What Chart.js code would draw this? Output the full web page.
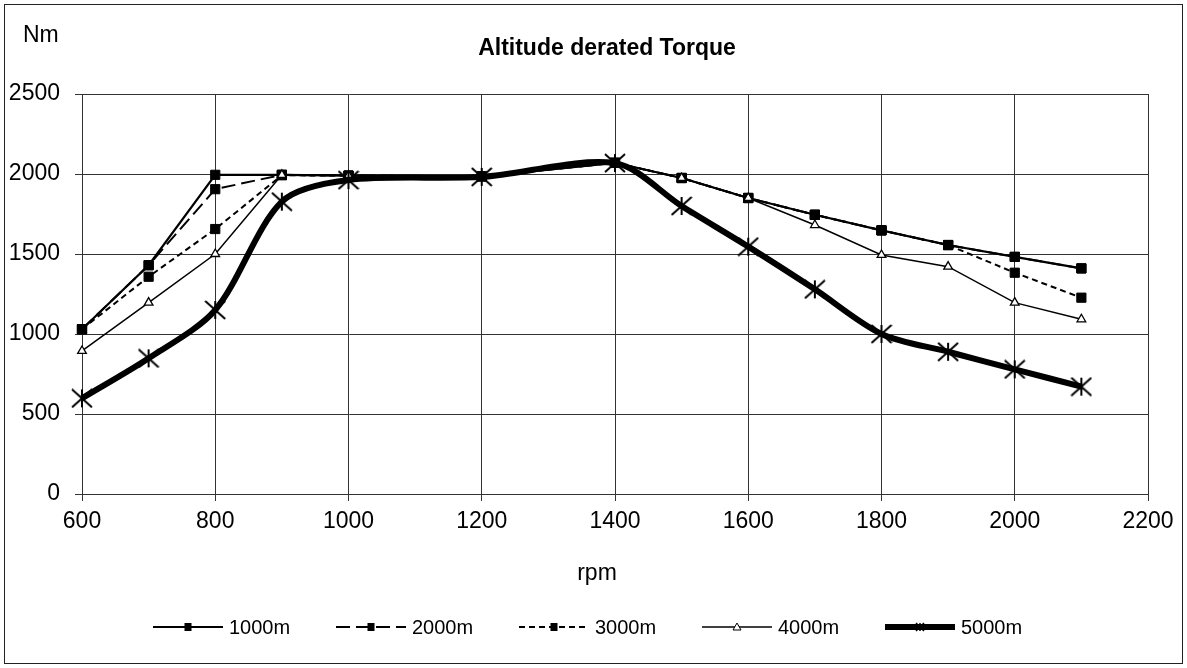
<!DOCTYPE html>
<html>
<head>
<meta charset="utf-8">
<title>Altitude derated Torque</title>
<script src="https://cdn.jsdelivr.net/npm/chart.js@4.4.1/dist/chart.umd.min.js"></script>
<style>
  html, body { margin: 0; padding: 0; background: #fff; }
  #wrap { width: 1187px; height: 668px; }
</style>
</head>
<body>
<div id="wrap"><canvas id="chart" width="1187" height="668"></canvas></div>
<script>
// values
const rpm = [600, 700, 800, 900, 1000, 1200, 1400, 1500, 1600, 1700, 1800, 1900, 2000, 2100];
const torque1000 = [1030, 1430, 1995, 1995, 1990, 1985, 2070, 1975, 1850, 1745, 1648, 1556, 1482, 1410];
const torque2000 = [1030, 1430, 1905, 1995, 1990, 1985, 2070, 1975, 1850, 1745, 1648, 1556, 1482, 1410];
const torque3000 = [1030, 1358, 1656, 1992, 1990, 1985, 2070, 1975, 1850, 1745, 1648, 1556, 1383, 1227];
const torque4000 = [894, 1196, 1500, 1995, 1990, 1985, 2070, 1975, 1850, 1681, 1494, 1421, 1196, 1092];
const torque5000 = [598, 848, 1150, 1827, 1962, 1982, 2068, 1800, 1546, 1279, 1000, 889, 779, 671];
const seriesNames = ['1000m', '2000m', '3000m', '4000m', '5000m'];
const xTicks = [600, 800, 1000, 1200, 1400, 1600, 1800, 2000, 2200];
const yTicks = [0, 500, 1000, 1500, 2000, 2500];

const FONT = 'Arial, "Liberation Sans", sans-serif';

function makeStar(w, h, lw) {
  const c = document.createElement('canvas');
  c.width = w; c.height = h;
  const g = c.getContext('2d');
  g.strokeStyle = '#000';
  g.lineWidth = lw;
  g.beginPath();
  g.moveTo(1, 1); g.lineTo(w - 1, h - 1);
  g.moveTo(w - 1, 1); g.lineTo(1, h - 1);
  g.moveTo(w / 2, 1); g.lineTo(w / 2, h - 1);
  g.stroke();
  return c;
}
const starBig = makeStar(22, 20, 2);
const starSmall = makeStar(10, 10, 1.5);

function toPoints(vals) {
  return rpm.map((x, i) => ({ x: x, y: vals[i] }));
}

function series(i, vals, extra) {
  return Object.assign({
    label: seriesNames[i],
    data: toPoints(vals),
    borderColor: '#000',
    backgroundColor: '#000',
    pointBackgroundColor: '#000',
    pointBorderColor: '#000',
    pointBorderWidth: 1,
    borderWidth: 2,
    tension: 0,
    clip: false,
    order: 5 - i
  }, extra);
}

const datasets = [
  series(0, torque1000, { pointStyle: 'rect', pointRadius: 6.5, borderWidth: 2.2 }),
  series(1, torque2000, { pointStyle: 'rect', pointRadius: 6.5, borderDash: [14, 6] }),
  series(2, torque3000, { pointStyle: 'rect', pointRadius: 6.5, borderDash: [6, 4] }),
  series(3, torque4000, { pointStyle: 'triangle', pointRadius: 5, pointBackgroundColor: '#fff', borderWidth: 1.5, pointBorderWidth: 1.3 }),
  series(4, torque5000, { pointStyle: starBig, pointRadius: 10, borderWidth: 6, tension: 0.3 })
];

// frame, title, axis names
const decorPlugin = {
  id: 'decor',
  afterDraw(chart) {
    const ctx = chart.ctx;
    ctx.save();
    ctx.strokeStyle = '#222';
    ctx.lineWidth = 1;
    ctx.strokeRect(4.5, 4.5, 1178, 659);
    ctx.fillStyle = '#000';
    ctx.textAlign = 'center';
    ctx.textBaseline = 'alphabetic';
    ctx.font = 'bold 23px ' + FONT;
    ctx.fillText('Altitude derated Torque', 607, 55);
    ctx.font = '23px ' + FONT;
    ctx.textAlign = 'left';
    ctx.fillText('Nm', 23, 42);
    ctx.textAlign = 'center';
    ctx.fillText('rpm', 597, 580);
    ctx.restore();
  }
};

function drawMarker(ctx, ds, x, y) {
  const st = ds.pointStyle;
  if (st === 'rect') {
    ctx.fillStyle = '#000';
    ctx.fillRect(x - 3.5, y - 4, 7, 8);
  } else if (st === 'triangle') {
    ctx.fillStyle = '#fff';
    ctx.strokeStyle = '#000';
    ctx.lineWidth = 1;
    ctx.beginPath();
    ctx.moveTo(x, y - 4); ctx.lineTo(x + 4, y + 3); ctx.lineTo(x - 4, y + 3);
    ctx.closePath();
    ctx.fill(); ctx.stroke();
  } else {
    ctx.drawImage(starSmall, x - 5, y - 5);
  }
}

// Excel-like legend: line sample with marker, then the name
const legendPlugin = {
  id: 'lineLegend',
  afterDraw(chart) {
    const ctx = chart.ctx;
    const y = 627;
    chart.data.datasets.forEach((ds, i) => {
      const x0 = 153 + i * 183;
      ctx.save();
      ctx.strokeStyle = '#000';
      ctx.lineWidth = ds.borderWidth;
      ctx.setLineDash(ds.borderDash || []);
      ctx.beginPath();
      ctx.moveTo(x0, y);
      ctx.lineTo(x0 + 70, y);
      ctx.stroke();
      ctx.setLineDash([]);
      drawMarker(ctx, ds, x0 + 35, y);
      ctx.fillStyle = '#000';
      ctx.font = '20px ' + FONT;
      ctx.textAlign = 'left';
      ctx.textBaseline = 'middle';
      ctx.fillText(seriesNames[i], x0 + 76, y + 1);
      ctx.restore();
    });
  }
};

const gridColor = '#333';
const plainTick = v => String(v);

new Chart(document.getElementById('chart'), {
  type: 'line',
  data: { datasets: datasets },
  plugins: [decorPlugin, legendPlugin],
  options: {
    responsive: false,
    animation: false,
    devicePixelRatio: 1,
    layout: { padding: { left: 0, top: 94, right: 39, bottom: 0 } },
    plugins: {
      legend: { display: false },
      title: { display: false },
      tooltip: { enabled: false }
    },
    scales: {
      x: {
        type: 'linear',
        min: 600,
        max: 2200,
        afterBuildTicks: s => { s.ticks = xTicks.map(v => ({ value: v })); },
        afterFit: s => { s.height = 174; },
        grid: { color: gridColor, lineWidth: 1, drawTicks: true, tickLength: 7, tickColor: gridColor },
        border: { color: gridColor, width: 1 },
        ticks: { color: '#000', font: { family: FONT, size: 23 }, padding: 7, maxRotation: 0, callback: plainTick }
      },
      y: {
        min: 0,
        max: 2500,
        afterBuildTicks: s => { s.ticks = yTicks.map(v => ({ value: v })); },
        afterFit: s => { s.width = 82; },
        grid: { color: gridColor, lineWidth: 1, drawTicks: true, tickLength: 7, tickColor: gridColor },
        border: { color: gridColor, width: 1 },
        ticks: { color: '#000', font: { family: FONT, size: 23 }, padding: 15, callback: plainTick }
      }
    }
  }
});
</script>
</body>
</html>
